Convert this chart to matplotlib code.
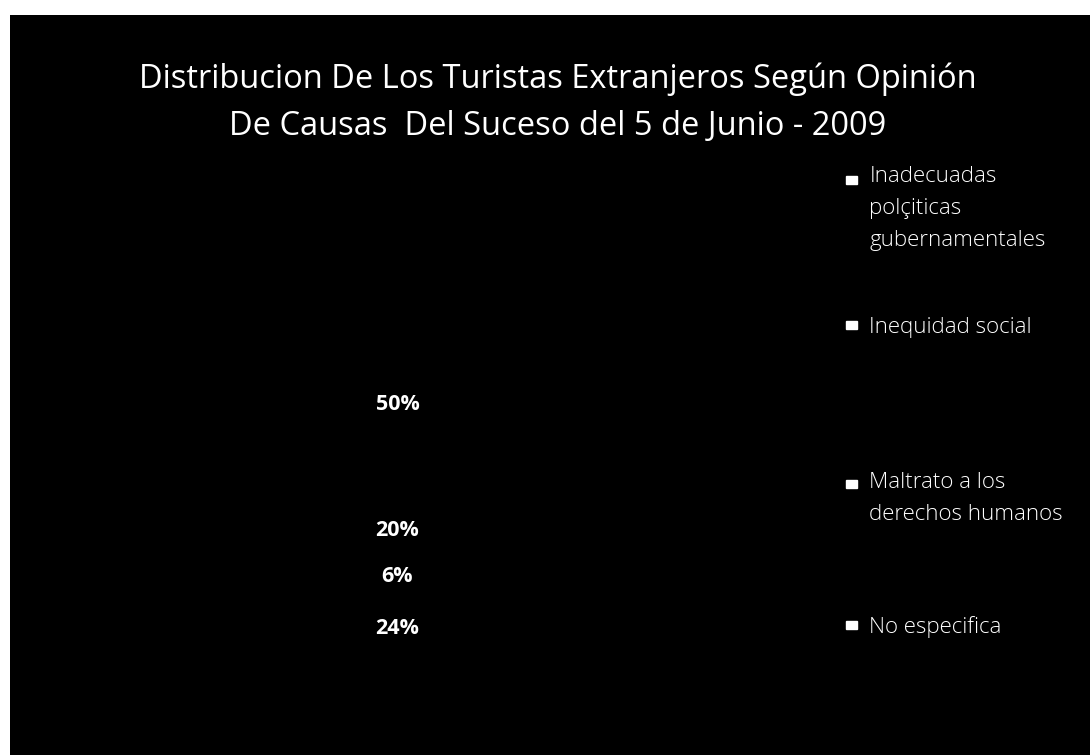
import matplotlib
matplotlib.use("Agg")
import matplotlib.pyplot as plt
from matplotlib.patches import Rectangle, Patch
from matplotlib.legend_handler import HandlerPatch

plt.rcParams['font.family'] = ['Open Sans', 'DejaVu Sans']

# datos del grafico
causas = ["Inadecuadas\npolçiticas\ngubernamentales",
          "Inequidad social",
          "Maltrato a los\nderechos humanos",
          "No especifica"]
porcentajes = [50, 20, 6, 24]

titulo = ("Distribucion De Los Turistas Extranjeros Según Opinión\n"
          "De Causas  Del Suceso del 5 de Junio - 2009")

fig = plt.figure(figsize=(10.9, 7.55), dpi=100, facecolor="white")

# fondo negro del grafico
fondo = Rectangle((10 / 1090, 0), 1 - 10 / 1090, 1 - 15 / 755,
                  transform=fig.transFigure, facecolor="black",
                  edgecolor="none", zorder=-5)
fig.patches.append(fondo)

fig.text(0.512, 1 - 103 / 755, titulo, ha="center", va="center",
         color="white", fontsize=23.5, linespacing=1.55)

ax = fig.add_axes([0.234, 0.119, 0.3394, 0.490])
ax.set_facecolor("black")
wedges, textos, pcts = ax.pie(porcentajes, colors=["black"] * 4,
                              startangle=90, counterclock=False,
                              wedgeprops=dict(edgecolor="black"),
                              autopct="%1.0f%%",
                              textprops=dict(color="white", fontsize=15.5,
                                             fontweight="bold"))

# las etiquetas van en una columna a la izquierda del centro
pos_y = [0.41, -0.27, -0.52, -0.80]
for t, y in zip(pcts, pos_y):
    t.set_position((-0.23, y))
    t.set_zorder(5)
ax.set_xlim(-1, 1)
ax.set_ylim(-1, 1)
ax.axis("off")


def marca_arriba(legend, orig_handle, xdescent, ydescent, width, height, fontsize):
    # cuadradito blanco a la altura de la primera linea
    lado = 0.35 * fontsize
    return Rectangle((-xdescent, height - ydescent - 0.62 * fontsize), 0.5 * fontsize, lado)


# una leyenda por entrada para repartirlas como en el original
tops = [166, 315, 472, 615]
ls = 1.7
for nombre, top in zip(causas, tops):
    n = nombre.count("\n") + 1
    h = Patch(facecolor="white", edgecolor="white")
    leg = fig.legend([h], [nombre], loc="upper left",
                     bbox_to_anchor=(846 / 1090, 1 - top / 755),
                     frameon=False, fontsize=16, labelcolor="white",
                     handlelength=0.5, handleheight=(n - 1) * (ls + 0.5) + 1.0,
                     handletextpad=0.55, borderaxespad=0, borderpad=0,
                     handler_map={Patch: HandlerPatch(patch_func=marca_arriba)})
    for t in leg.get_texts():
        t.set_linespacing(ls)
        t.set_fontweight("light")

fig.savefig("out.png", dpi=100, facecolor="white")
